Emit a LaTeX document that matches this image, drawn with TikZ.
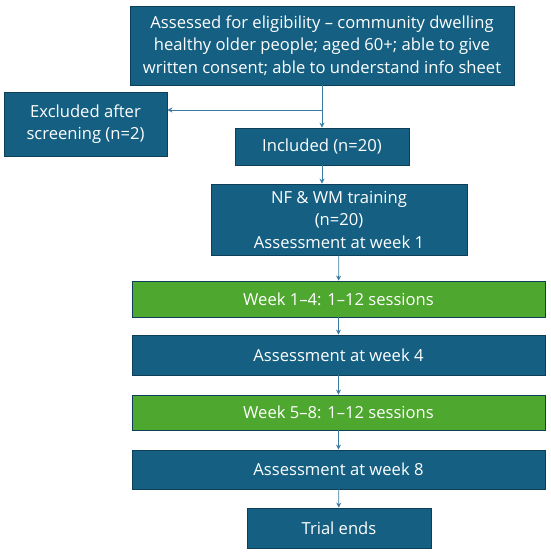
\documentclass[tikz,border=0pt]{standalone}
\usepackage{fontspec}
\setmainfont{Open Sans}
\usetikzlibrary{arrows.meta}
\definecolor{boxblue}{HTML}{156082}
\definecolor{boxgreen}{HTML}{4EA72E}
\definecolor{edgeblue}{HTML}{0E3F58}
\definecolor{arrblue}{HTML}{3A7CA0}
\tikzset{
  stage/.style={draw=edgeblue,line width=0.8pt,fill=boxblue,text=white,align=center,inner sep=0pt,font=\fontsize{16.6}{22.5}\selectfont},
  weeks/.style={stage,fill=boxgreen},
  arr/.style={draw=arrblue,line width=0.8pt,-{Stealth[length=5pt,width=5pt]}}
}
\begin{document}
\begin{tikzpicture}[x=1pt,y=1pt]
	    \useasboundingbox (0,0) rectangle (550,-554);
	    \node[stage,minimum width=384,minimum height=79](elig) at (322,-45.5){Assessed for eligibility -- community dwelling\\healthy older people; aged 60+; able to give\\written consent; able to understand info sheet};
	    \node[stage,minimum width=163,minimum height=64](excl) at (85.5,-124){Excluded after\\screening (n=2)};
	    \node[stage,minimum width=174,minimum height=37](incl) at (322,-146.5){Included (n=20)};
	    \node[stage,minimum width=256,minimum height=71](train) at (339,-219.5){NF \& WM training\\(n=20)\\Assessment at week 1};
	    \node[weeks,minimum width=413,minimum height=36](wk1) at (338.5,-299){Week 1--4: 1--12 sessions};
	    \node[stage,minimum width=413,minimum height=40](as4) at (338.5,-355){Assessment at week 4};
	    \node[weeks,minimum width=413,minimum height=35](wk2) at (338.5,-412.5){Week 5--8: 1--12 sessions};
	    \node[stage,minimum width=413,minimum height=39](as8) at (338.5,-469.5){Assessment at week 8};
	    \node[stage,minimum width=184,minimum height=40](trial) at (339,-528){Trial ends};
	    \coordinate (split) at (322,-110);
	    \draw[arr](elig)--(incl);
	    \draw[arr](split)--(excl.east |- split);
	    \draw[arr](incl.south)--(incl.south |- train.north);
	    \draw[arr](train)--(wk1);
	    \draw[arr](wk1)--(as4);
	    \draw[arr](as4)--(wk2);
	    \draw[arr](wk2)--(as8);
	    \draw[arr](as8)--(trial);
	\end{tikzpicture}
\end{document}
